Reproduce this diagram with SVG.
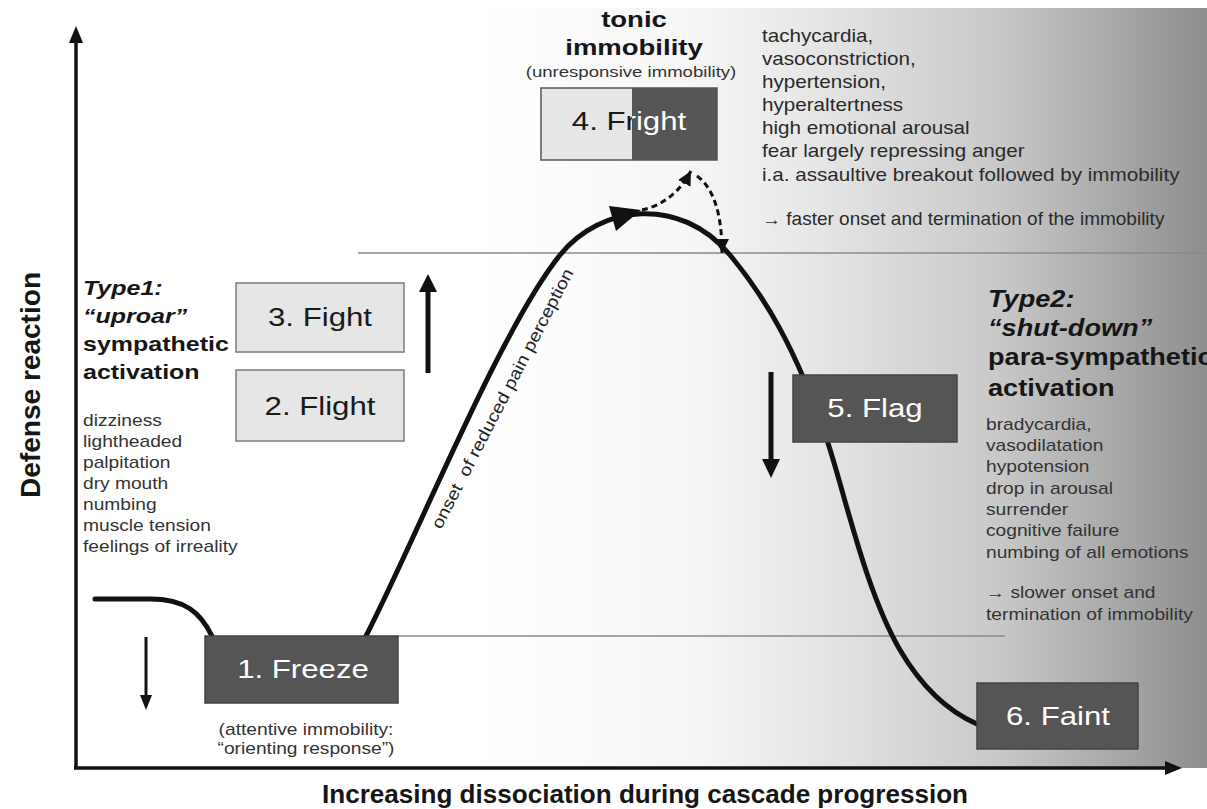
<svg xmlns="http://www.w3.org/2000/svg" width="1207" height="809" viewBox="0 0 1207 809">
  <style>
    text { font-family: "Liberation Sans", Arial, sans-serif; }
    .hb { font-weight: bold; fill: #161616; }
    .hbi { font-weight: bold; font-style: italic; fill: #161616; }
    .lst { font-size: 16px; fill: #333; }
    .lst2 { font-size: 17.5px; fill: #2a2a2a; }
    .lbl { font-size: 26px; text-anchor: middle; }
    .dark { fill: #555555; stroke: #444; stroke-width: 1.5; }
    .light { fill: #e6e6e6; stroke: #7c7c7c; stroke-width: 1.5; }
    .curve { fill: none; stroke: #111; stroke-width: 5; stroke-linecap: round; }
    .dash { fill: none; stroke: #111; stroke-width: 3; stroke-dasharray: 6 4; }
    .guide { stroke: #8a8a8a; stroke-width: 1.5; }
    .ax { stroke: #111; stroke-width: 3.5; }
  </style>
  <defs>
    <linearGradient id="bg" x1="0" y1="0" x2="1" y2="0">
      <stop offset="0" stop-color="#ffffff"/>
      <stop offset="0.3" stop-color="#f6f6f6"/>
      <stop offset="0.45" stop-color="#e8e8e8"/>
      <stop offset="0.72" stop-color="#c8c8c8"/>
      <stop offset="1" stop-color="#8e8e8e"/>
    </linearGradient>
    <marker id="ah" viewBox="0 0 10 10" refX="10" refY="5" markerWidth="14" markerHeight="14" markerUnits="userSpaceOnUse" orient="auto">
      <path d="M0,0 L10,5 L0,10 z" fill="#111"/>
    </marker>
    <clipPath id="clipL"><rect x="0" y="0" width="632" height="809"/></clipPath>
    <clipPath id="clipR"><rect x="632" y="0" width="575" height="809"/></clipPath>
  </defs>

  <rect width="1207" height="809" fill="#ffffff"/>
  <rect x="470" y="8" width="737" height="760" fill="url(#bg)"/>

  <!-- guide lines -->
  <line class="guide" x1="358" y1="253" x2="1207" y2="253"/>
  <line class="guide" x1="398" y1="636" x2="1005" y2="636"/>

  <!-- axes -->
  <g id="axes">
    <line class="ax" x1="76" y1="769" x2="76" y2="40"/>
    <polygon points="76,26 69,43 83,43" fill="#111"/>
    <line class="ax" x1="74" y1="768" x2="1168" y2="768"/>
    <polygon points="1182,768 1165,761 1165,775" fill="#111"/>
    <text class="hb" font-size="28" text-anchor="middle" textLength="226" lengthAdjust="spacingAndGlyphs" transform="translate(40,385) rotate(-90)">Defense reaction</text>
    <text class="hb" x="645" y="803" font-size="25" text-anchor="middle" textLength="646" lengthAdjust="spacingAndGlyphs">Increasing dissociation during cascade progression</text>
  </g>

  <!-- connectors -->
  <g id="connectors">
    <path class="curve" d="M 95 599 L 150 599 C 185 599 200 612 212 636"/>
    <path class="curve" d="M 366 636 C 420 530 500 330 560 255 C 600 205 680 195 730 255 C 763 295 795 345 827 440 C 845 494 865 590 900 650 C 920 684 945 710 977 724"/>
    <polygon points="641,210 609,206 616,231" fill="#111"/>
    <path class="dash" d="M 642 210 C 660 206 678 195 691 171" marker-end="url(#ah)"/>
    <path class="dash" d="M 697 176 C 714 188 722 215 722 253" marker-end="url(#ah)"/>
    <line x1="428" y1="373" x2="428" y2="290" stroke="#111" stroke-width="5"/>
    <polygon points="428,274 419,292 437,292" fill="#111"/>
    <line x1="771" y1="372" x2="771" y2="462" stroke="#111" stroke-width="5"/>
    <polygon points="771,478 762,459 780,459" fill="#111"/>
    <line x1="146" y1="637" x2="146" y2="697" stroke="#111" stroke-width="3"/>
    <polygon points="146,710 140,695 152,695" fill="#111"/>
    <text font-size="17" fill="#222" textLength="290" lengthAdjust="spacingAndGlyphs" transform="translate(441,530) rotate(-62.7)" xml:space="preserve">onset  of reduced pain perception</text>
  </g>

  <!-- nodes -->
  <g id="node-freeze">
    <rect class="dark" x="205" y="636" width="193" height="67"/>
    <text class="lbl" fill="#ffffff" transform="translate(303,678) scale(1.2,1)">1. Freeze</text>
    <g transform="translate(306,735) scale(1.2,1)">
      <text class="lst" text-anchor="middle" x="0" y="0">(attentive immobility:</text>
      <text class="lst" text-anchor="middle" x="0" y="19.5">“orienting response”)</text>
    </g>
  </g>

  <g id="node-flight">
    <rect class="light" x="236" y="370" width="168" height="71"/>
    <text class="lbl" fill="#1a1a1a" transform="translate(320,415) scale(1.2,1)">2. Flight</text>
  </g>

  <g id="node-fight">
    <rect class="light" x="236" y="283" width="168" height="69"/>
    <text class="lbl" fill="#1a1a1a" transform="translate(320,326) scale(1.2,1)">3. Fight</text>
  </g>

  <g id="node-fright">
    <text class="hb" font-size="22" text-anchor="middle" transform="translate(634,27) scale(1.25,1)">tonic</text>
    <text class="hb" font-size="22" text-anchor="middle" transform="translate(634,55) scale(1.25,1)">immobility</text>
    <text font-size="15" fill="#333" text-anchor="middle" transform="translate(631,77) scale(1.24,1)">(unresponsive immobility)</text>
    <rect x="541" y="88" width="91" height="72" fill="#e6e6e6"/>
    <rect x="632" y="88" width="85" height="72" fill="#555555"/>
    <rect x="541" y="88" width="176" height="72" fill="none" stroke="#555" stroke-width="1.5"/>
    <g clip-path="url(#clipL)">
      <text class="lbl" fill="#1a1a1a" transform="translate(629,130) scale(1.2,1)">4. Fright</text>
    </g>
    <g clip-path="url(#clipR)">
      <text class="lbl" fill="#ffffff" transform="translate(629,130) scale(1.2,1)">4. Fright</text>
    </g>
  </g>

  <g id="node-flag">
    <rect class="dark" x="793" y="375" width="164" height="67"/>
    <text class="lbl" fill="#ffffff" transform="translate(875,417) scale(1.2,1)">5. Flag</text>
  </g>

  <g id="node-faint">
    <rect class="dark" x="977" y="683" width="161" height="66"/>
    <text class="lbl" fill="#ffffff" transform="translate(1058,725) scale(1.2,1)">6. Faint</text>
  </g>

  <!-- annotations -->
  <g id="type1" transform="translate(83,0) scale(1.19,1)">
    <text class="hbi" font-size="21" x="0" y="295">Type1:</text>
    <text class="hbi" font-size="21" x="0" y="323">“uproar”</text>
    <text class="hb" font-size="21" x="0" y="351">sympathetic</text>
    <text class="hb" font-size="21" x="0" y="379">activation</text>
  </g>
  <g id="type1-list" transform="translate(83,0) scale(1.2,1)">
    <text class="lst" x="0" y="426">dizziness</text>
    <text class="lst" x="0" y="447">lightheaded</text>
    <text class="lst" x="0" y="468">palpitation</text>
    <text class="lst" x="0" y="489">dry mouth</text>
    <text class="lst" x="0" y="510">numbing</text>
    <text class="lst" x="0" y="531">muscle tension</text>
    <text class="lst" x="0" y="552">feelings of irreality</text>
  </g>

  <g id="fright-list" transform="translate(762,0) scale(1.18,1)">
    <text class="lst2" x="0" y="42">tachycardia,</text>
    <text class="lst2" x="0" y="65">vasoconstriction,</text>
    <text class="lst2" x="0" y="88">hypertension,</text>
    <text class="lst2" x="0" y="111">hyperaltertness</text>
    <text class="lst2" x="0" y="134">high emotional arousal</text>
    <text class="lst2" x="0" y="157">fear largely repressing anger</text>
    <text class="lst2" x="0" y="181">i.a. assaultive breakout followed by immobility</text>
    <text class="lst2" x="0" y="225" textLength="341" lengthAdjust="spacingAndGlyphs">→ faster onset and termination of the immobility</text>
  </g>

  <g id="type2" transform="translate(988,0) scale(1.18,1)">
    <text class="hbi" font-size="23" x="0" y="307">Type2:</text>
    <text class="hbi" font-size="23" x="0" y="336">“shut-down”</text>
    <text class="hb" font-size="23" x="0" y="365">para-sympathetic</text>
    <text class="hb" font-size="23" x="0" y="396">activation</text>
  </g>
  <g id="type2-list" transform="translate(986,0) scale(1.2,1)">
    <text class="lst" x="0" y="430">bradycardia,</text>
    <text class="lst" x="0" y="451">vasodilatation</text>
    <text class="lst" x="0" y="472.5">hypotension</text>
    <text class="lst" x="0" y="494">drop in arousal</text>
    <text class="lst" x="0" y="515">surrender</text>
    <text class="lst" x="0" y="536.5">cognitive failure</text>
    <text class="lst" x="0" y="558">numbing of all emotions</text>
    <text class="lst" x="0" y="598">→ slower onset and</text>
    <text class="lst" x="0" y="620">termination of immobility</text>
  </g>
</svg>
